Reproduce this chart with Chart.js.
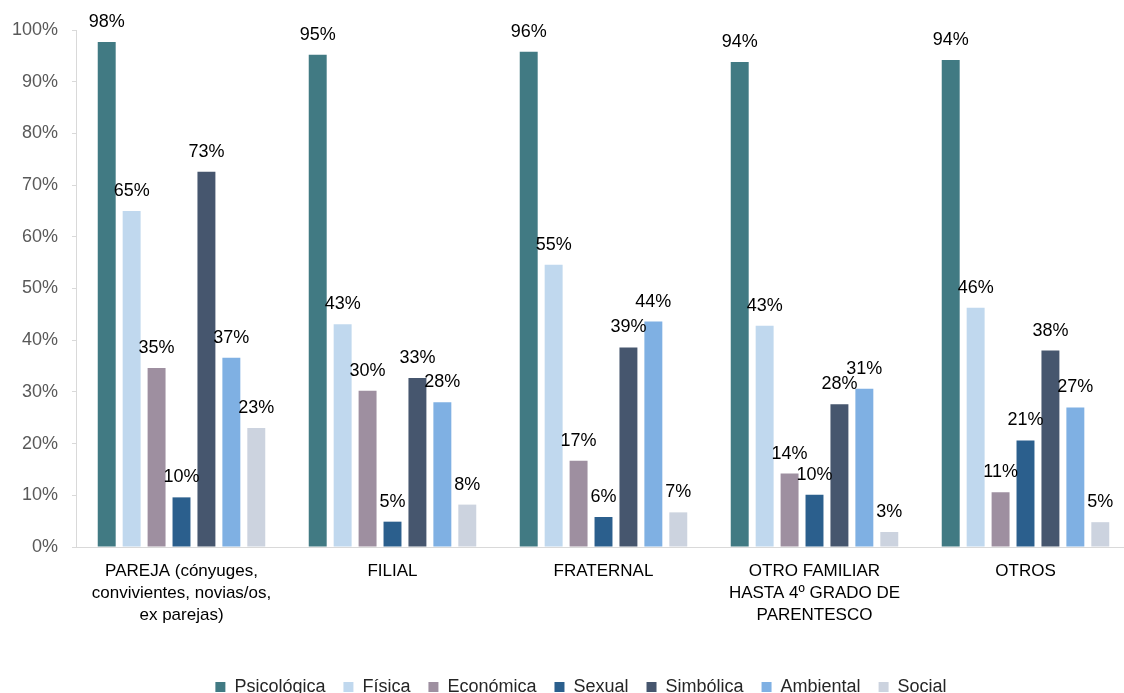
<!DOCTYPE html>
<html>
<head>
<meta charset="utf-8">
<script src="https://cdn.jsdelivr.net/npm/chart.js@4"></script>
<style>
  html, body { margin: 0; padding: 0; background: #fff; overflow: hidden; }
  #wrap { position: relative; width: 1162px; height: 706px; }
</style>
</head>
<body>
<div id="wrap"><canvas id="graphCanvas"></canvas></div>
<script>
// categorías (eje X)
const categorias = [
    ['PAREJA (cónyuges,', 'convivientes, novias/os,', 'ex parejas)'],
    'FILIAL',
    'FRATERNAL',
    ['OTRO FAMILIAR', 'HASTA 4º GRADO DE', 'PARENTESCO'],
    'OTROS'
];

// tipos de violencia (%)
const psicologica = [97.7, 95.2, 95.8, 93.8, 94.2];
const fisica      = [65.0, 43.1, 54.6, 42.8, 46.3];
const economica   = [34.6, 30.2, 16.7, 14.2, 10.6];
const sexual      = [9.6, 4.9, 5.8, 10.1, 20.6];
const simbolica   = [72.6, 32.7, 38.6, 27.6, 38.0];
const ambiental   = [36.6, 28.0, 43.6, 30.6, 27.0];
const social      = [23.0, 8.2, 6.7, 2.9, 4.8];

const yTicks = [0, 10, 20, 30, 40, 50, 60, 70, 80, 90, 100];

const fuente = '"Liberation Sans", Arial, sans-serif';

// etiquetas encima de cada barra
const etiquetas = {
    id: 'etiquetas',
    afterDatasetsDraw(chart) {
        const ctx = chart.ctx;
        ctx.save();
        ctx.font = '18px ' + fuente;
        ctx.fillStyle = '#000000';
        ctx.textAlign = 'center';
        ctx.textBaseline = 'alphabetic';
        chart.data.datasets.forEach((ds, i) => {
            const meta = chart.getDatasetMeta(i);
            meta.data.forEach((bar, j) => {
                ctx.fillText(Math.round(ds.data[j]) + '%', bar.x, bar.y - 15);
            });
        });
        ctx.restore();
    }
};

function serie(label, data, color) {
    return {
        label: label,
        data: data,
        backgroundColor: color,
        borderWidth: 0,
        categoryPercentage: 0.827,
        barPercentage: 0.72
    };
}

const ctx = document.getElementById('graphCanvas').getContext('2d');
new Chart(ctx, {
    type: 'bar',
    data: {
        labels: categorias,
        datasets: [
            serie('Psicológica', psicologica, '#417a83'),
            serie('Física', fisica, '#c0d8ee'),
            serie('Económica', economica, '#9e8fa0'),
            serie('Sexual', sexual, '#2b5f8d'),
            serie('Simbólica', simbolica, '#46566e'),
            serie('Ambiental', ambiental, '#7fb0e3'),
            serie('Social', social, '#ccd3df')
        ]
    },
    options: {
        responsive: true,
        maintainAspectRatio: false,
        animation: false,
        layout: { padding: { top: 30, left: 0, right: 0, bottom: 0 } },
        plugins: {
            legend: {
                position: 'bottom',
                labels: {
                    boxWidth: 10,
                    boxHeight: 10,
                    padding: 18,
                    color: '#262626',
                    font: { family: fuente, size: 18 }
                }
            },
            tooltip: { enabled: false }
        },
        scales: {
            x: {
                grid: { display: false },
                border: { display: true, color: '#d9d9d9', width: 1 },
                ticks: {
                    color: '#000000',
                    padding: 5,
                    maxRotation: 0,
                    autoSkip: false,
                    font: { family: fuente, size: 17, lineHeight: 1.3 }
                },
                afterFit(s) { s.height = 113; }
            },
            y: {
                min: 0,
                max: 100,
                afterBuildTicks(s) { s.ticks = yTicks.map(v => ({ value: v })); },
                grid: {
                    drawOnChartArea: false,
                    drawTicks: true,
                    tickLength: 4,
                    color: '#d9d9d9'
                },
                border: { display: true, color: '#d9d9d9', width: 1 },
                ticks: {
                    color: '#595959',
                    padding: 14,
                    font: { family: fuente, size: 18 },
                    callback: v => v + '%'
                },
                afterFit(s) { s.width = 76; }
            },
            yRelleno: {
                position: 'right',
                display: true,
                grid: { display: false },
                border: { display: false },
                ticks: { display: false },
                afterFit(s) { s.width = 31; }
            }
        }
    },
    plugins: [etiquetas]
});
</script>
</body>
</html>
